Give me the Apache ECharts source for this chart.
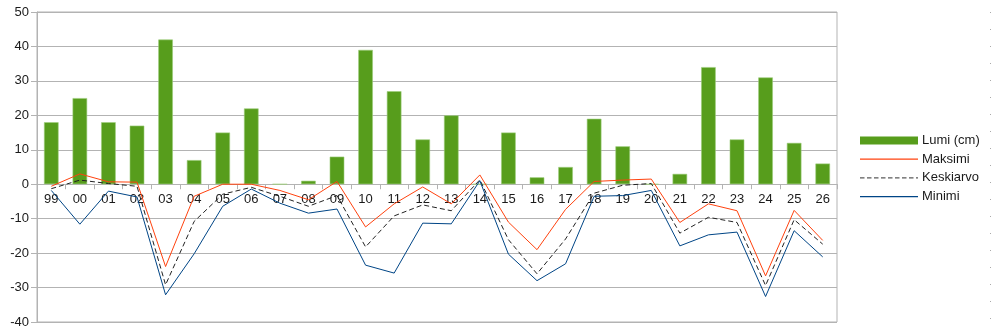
<!DOCTYPE html>
<html><head><meta charset="utf-8">
<script src="https://cdn.jsdelivr.net/npm/echarts@6/dist/echarts.min.js"></script>
<style>html,body{margin:0;padding:0;background:#fff}#c{width:991px;height:335px}</style>
</head><body><div id="c"></div>
<script>
const categories = ['99','00','01','02','03','04','05','06','07','08','09','10','11','12','13','14','15','16','17','18','19','20','21','22','23','24','25','26'];
const lumi = [18,25,18,17,42,7,15,22,0,1,8,39,27,13,20,0,15,2,5,19,11,0,3,34,13,31,12,6];
const maksimi = [-0.6,3.0,0.7,0.6,-23.9,-3.5,0,0,-1.8,-4.5,0.8,-12.4,-5.7,-0.8,-5.7,2.7,-11.0,-19.0,-7.3,0.8,1.2,1.5,-11.1,-5.7,-7.7,-26.6,-7.6,-16.3];
const keskiarvo = [-1.3,1.2,0.2,-0.6,-29.2,-10.8,-2.9,-0.9,-3.5,-6.4,-3.3,-18.2,-9.2,-6.0,-7.7,1.3,-16.1,-26.0,-15.9,-2.6,-0.3,0.2,-14.2,-9.6,-11.1,-29.4,-10.3,-17.4];
const minimi = [-1.8,-11.6,-2.0,-3.7,-32.1,-20.2,-6.4,-1.4,-5.5,-8.4,-7.2,-23.5,-25.8,-11.3,-11.5,1.0,-20.3,-28.0,-23.1,-3.5,-3.3,-1.8,-17.9,-14.7,-13.9,-32.6,-13.5,-21.1];
const seriesNames = ['Lumi (cm)','Maksimi','Keskiarvo','Minimi'];
const yTicks = {min:-40, max:50, interval:10};

const gridTop = 12, gridHeight = 310;
const zeroOffset = -(gridHeight * (0 - yTicks.min) / (yTicks.max - yTicks.min));

const solidIcon = 'path://M0,0h58v1.2h-58z';
let dashPath = 'path://';
for (let x = 0; x < 58; x += 7) { const w = Math.min(4.5, 58 - x); dashPath += 'M' + x + ',0h' + w + 'v1.4h-' + w + 'z'; }

const RED = '#ff420e', BLUE = '#004586', GREEN = '#579d1c', DASH = '#5a5a5a';

const chart = echarts.init(document.getElementById('c'), null, {renderer:'canvas'});
const font = 'Liberation Sans';
chart.setOption({
  animation:false,
  backgroundColor:'#fff',
  textStyle:{fontFamily:font},
  grid:{left:37, top:gridTop, width:800, height:gridHeight, show:true, borderColor:'#b3b3b3', borderWidth:1, containLabel:false, outerBoundsMode:'none'},
  legend:{
    orient:'vertical', left:860, top:134, padding:0, itemWidth:58, itemHeight:8, itemGap:5.7, symbolKeepAspect:true,
    itemStyle:{borderWidth:0},
    textStyle:{fontFamily:font, fontSize:13, color:'#1a1a1a', padding:[0,0,0,-1]},
    data:[
      {name:seriesNames[0], icon:'rect', itemStyle:{color:GREEN, borderWidth:0}},
      {name:seriesNames[1], icon:solidIcon, itemStyle:{color:RED, borderColor:RED, borderWidth:0}},
      {name:seriesNames[2], icon:dashPath, itemStyle:{color:DASH, borderColor:DASH, borderWidth:0}},
      {name:seriesNames[3], icon:solidIcon, itemStyle:{color:BLUE, borderColor:BLUE, borderWidth:0}}
    ]
  },
  xAxis:{
    type:'category', data:categories, position:'bottom', offset:zeroOffset,
    axisLine:{onZero:false, lineStyle:{color:'#b3b3b3'}},
    axisTick:{show:true, length:5, lineStyle:{color:'#b3b3b3'}},
    axisLabel:{fontFamily:font, fontSize:13, color:'#1a1a1a', margin:9, interval:0},
    splitLine:{show:false}
  },
  yAxis:{
    type:'value', min:yTicks.min, max:yTicks.max, interval:yTicks.interval,
    axisLine:{show:true, lineStyle:{color:'#b3b3b3'}},
    axisTick:{show:true, length:6, lineStyle:{color:'#b3b3b3'}},
    axisLabel:{fontFamily:font, fontSize:13, color:'#1a1a1a', margin:8},
    splitLine:{show:true, lineStyle:{color:'#b3b3b3', width:1}}
  },
  series:[
    {name:seriesNames[0], type:'bar', color:GREEN, data:lumi, barWidth:'51%', itemStyle:{color:GREEN, borderColor:'#9ccc7a', borderWidth:0.6}, z:1},
    {name:seriesNames[1], type:'line', color:RED, data:maksimi, symbol:'none', showSymbol:false, lineStyle:{color:RED, width:1}, itemStyle:{color:RED}, z:3},
    {name:seriesNames[2], type:'line', color:DASH, data:keskiarvo, symbol:'none', showSymbol:false, lineStyle:{color:'#222', width:1, type:[5,3]}, itemStyle:{color:DASH}, z:3},
    {name:seriesNames[3], type:'line', color:BLUE, data:minimi, symbol:'none', showSymbol:false, lineStyle:{color:BLUE, width:1}, itemStyle:{color:BLUE}, z:3}
  ],
  graphic:[{type:'line', shape:{x1:990.5,y1:12,x2:990.5,y2:335}, style:{stroke:'#aaaaaa', lineWidth:1, lineDash:[1,16]}, silent:true}]
});
</script></body></html>
